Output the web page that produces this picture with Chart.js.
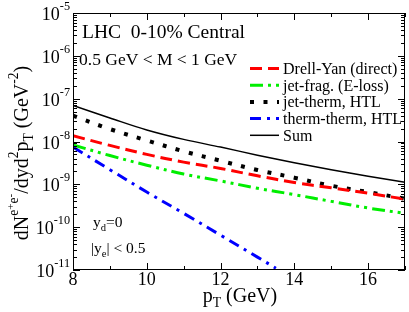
<!DOCTYPE html>
<html>
<head>
<meta charset="utf-8">
<script src="https://cdn.jsdelivr.net/npm/chart.js@4/dist/chart.umd.min.js"></script>
<style>
  html, body { margin: 0; padding: 0; background: #fff; }
  #wrap { width: 409px; height: 312px; }
</style>
</head>
<body>
<div id="wrap"><canvas id="chart" width="409" height="312"></canvas></div>
<script>
// p_T grid (GeV) and yields
const ptGrid = [8, 9, 10, 11, 12, 13, 14, 15, 16, 17];
const drellYan = [1.36e-8, 8.1e-9, 5.0e-9, 3.3e-9, 2.35e-9, 1.58e-9, 1.1e-9, 8.3e-10, 6.2e-10, 4.5e-10];
const jetFrag = [8.3e-9, 4.7e-9, 2.8e-9, 1.74e-9, 1.2e-9, 8.1e-10, 5.75e-10, 4.0e-10, 2.8e-10, 2.1e-10];
const jetTherm = [4.0e-8, 1.95e-8, 1.06e-8, 5.9e-9, 3.55e-9, 2.16e-9, 1.43e-9, 9.3e-10, 6.6e-10, 4.6e-10];
const sumYield = [6.9e-8, 3.55e-8, 1.86e-8, 1.12e-8, 7.4e-9, 4.8e-9, 3.2e-9, 2.2e-9, 1.55e-9, 1.12e-9];

// therm-therm only runs until it leaves the frame
const ptThermTherm = [8, 9, 10, 11, 12, 13, 13.5];
const thermTherm = [7.4e-9, 2.2e-9, 6.6e-10, 2.1e-10, 6.5e-11, 2.0e-11, 1.1e-11];

const xTicks = [8, 10, 12, 14, 16];
const yExponents = [-5, -6, -7, -8, -9, -10, -11];

const legendLabels = ["Drell-Yan (direct)", "jet-frag. (E-loss)", "jet-therm, HTL", "therm-therm, HTL", "Sum"];

const SERIF = "'Liberation Serif', 'DejaVu Serif', serif";

function toPoints(xs, ys) {
  return xs.map((x, i) => ({ x: x, y: ys[i] }));
}

// text with super/subscripts; parts = [[text, level], ...]
function partStyle(lv, size, raise) {
  if (lv === 1) return { s: size * 0.68, dy: -size * raise };
  if (lv === 2) return { s: size * 0.55, dy: -size * (raise + 0.2) };
  if (lv === -1) return { s: size * 0.68, dy: size * 0.25 };
  return { s: size, dy: 0 };
}
function richWidth(ctx, parts, size, raise) {
  let w = 0;
  parts.forEach(([t, lv]) => {
    ctx.font = partStyle(lv, size, raise || 0.45).s + "px " + SERIF;
    w += ctx.measureText(t).width;
  });
  return w;
}
function drawRich(ctx, x, y, parts, size, raise) {
  let cx = x;
  parts.forEach(([t, lv]) => {
    const st = partStyle(lv, size, raise || 0.45);
    ctx.font = st.s + "px " + SERIF;
    ctx.fillText(t, cx, y + st.dy);
    cx += ctx.measureText(t).width;
  });
}

const decorPlugin = {
  id: "decor",
  afterDraw(chart) {
    const ctx = chart.ctx;
    const a = chart.chartArea;
    const xs = chart.scales.x, ys = chart.scales.y;
    ctx.save();
    ctx.fillStyle = "#000";
    ctx.strokeStyle = "#000";
    ctx.lineWidth = 1;
    ctx.textBaseline = "alphabetic";
    ctx.textAlign = "left";

    // frame
    ctx.strokeRect(a.left + 0.5, a.top + 0.5, a.right - a.left - 1, a.bottom - a.top - 1);

    // x ticks, inward on bottom and top
    ctx.beginPath();
    for (let v = 8; v <= 17; v++) {
      const px = Math.round(xs.getPixelForValue(v)) + 0.5;
      const len = v % 2 === 0 ? 7 : 4;
      ctx.moveTo(px, a.bottom); ctx.lineTo(px, a.bottom - len);
      ctx.moveTo(px, a.top); ctx.lineTo(px, a.top + len);
    }
    // y ticks, inward on left and right
    yExponents.forEach(e => {
      for (let m = 1; m <= 9; m++) {
        if (e === -5 && m > 1) continue;
        const py = Math.round(ys.getPixelForValue(m * Math.pow(10, e))) + 0.5;
        const len = m === 1 ? 7 : 4;
        ctx.moveTo(a.left, py); ctx.lineTo(a.left + len, py);
        ctx.moveTo(a.right, py); ctx.lineTo(a.right - len, py);
      }
    });
    ctx.stroke();

    // x tick labels
    ctx.font = "18px " + SERIF;
    ctx.textAlign = "center";
    xTicks.forEach(v => {
      ctx.fillText(String(v), xs.getPixelForValue(v), a.bottom + 15);
    });
    ctx.textAlign = "left";

    // y tick labels 10^n
    yExponents.forEach(e => {
      const py = ys.getPixelForValue(Math.pow(10, e));
      const parts = [["10", 0], [String(e), 1]];
      const w = richWidth(ctx, parts, 18, 0.55);
      drawRich(ctx, a.left - 3 - w, py + 7, parts, 18, 0.55);
    });

    // axis titles
    const xt = [["p", 0], ["T", -1], [" (GeV)", 0]];
    drawRich(ctx, 240 - richWidth(ctx, xt, 20) / 2, 302, xt, 20);

    const yt = [["dN", 0], ["e", 1], ["+", 2], ["e", 1], ["-", 2], ["/dyd", 0], ["2", 1], ["p", 0], ["T", -1], [" (GeV", 0], ["-2", 1], [")", 0]];
    ctx.save();
    ctx.translate(28, 153);
    ctx.rotate(-Math.PI / 2);
    drawRich(ctx, -richWidth(ctx, yt, 20, 0.5) / 2, 0, yt, 20, 0.5);
    ctx.restore();

    // in-plot annotations
    ctx.font = "19.5px " + SERIF;
    ctx.fillText("LHC  0-10% Central", 82, 38);
    ctx.font = "17.5px " + SERIF;
    ctx.fillText("0.5 GeV < M < 1 GeV", 79, 65);
    drawRich(ctx, 93, 227, [["y", 0], ["d", -1], ["=0", 0]], 15.5);
    drawRich(ctx, 91, 253, [["|y", 0], ["e", -1], ["| < 0.5", 0]], 15.5);

    // legend built from the datasets' own styles
    chart.data.datasets.forEach((ds, i) => {
      const ly = 74 + i * 16.7;
      ctx.save();
      ctx.strokeStyle = ds.borderColor;
      ctx.lineWidth = ds.borderWidth;
      ctx.setLineDash(ds.borderDash || []);
      ctx.beginPath();
      ctx.moveTo(250, ly - 5.5);
      ctx.lineTo(279, ly - 5.5);
      ctx.stroke();
      ctx.restore();
      ctx.font = "16px " + SERIF;
      ctx.fillText(legendLabels[i], 283, ly);
    });

    ctx.restore();
  }
};

new Chart(document.getElementById("chart"), {
  type: "line",
  data: {
    datasets: [
      { label: legendLabels[0], data: toPoints(ptGrid, drellYan), borderColor: "#ff0000", borderWidth: 3, borderDash: [12, 6] },
      { label: legendLabels[1], data: toPoints(ptGrid, jetFrag), borderColor: "#00ee00", borderWidth: 3, borderDash: [13, 5, 3, 5, 3, 5] },
      { label: legendLabels[2], data: toPoints(ptGrid, jetTherm), borderColor: "#000000", borderWidth: 4, borderDash: [4, 9.5] },
      { label: legendLabels[3], data: toPoints(ptThermTherm, thermTherm), borderColor: "#0000ff", borderWidth: 3, borderDash: [11, 6, 3, 6] },
      { label: legendLabels[4], data: toPoints(ptGrid, sumYield), borderColor: "#000000", borderWidth: 1.5 }
    ]
  },
  options: {
    responsive: false,
    animation: false,
    devicePixelRatio: 1,
    layout: { padding: { left: 73, top: 13, right: 4, bottom: 42 } },
    elements: { point: { radius: 0 }, line: { tension: 0.35, fill: false, borderCapStyle: "butt" } },
    plugins: { legend: { display: false }, tooltip: { enabled: false } },
    scales: {
      x: { type: "linear", min: 8, max: 17, display: false },
      y: { type: "logarithmic", min: 1e-11, max: 1e-5, display: false }
    }
  },
  plugins: [decorPlugin]
});
</script>
</body>
</html>
